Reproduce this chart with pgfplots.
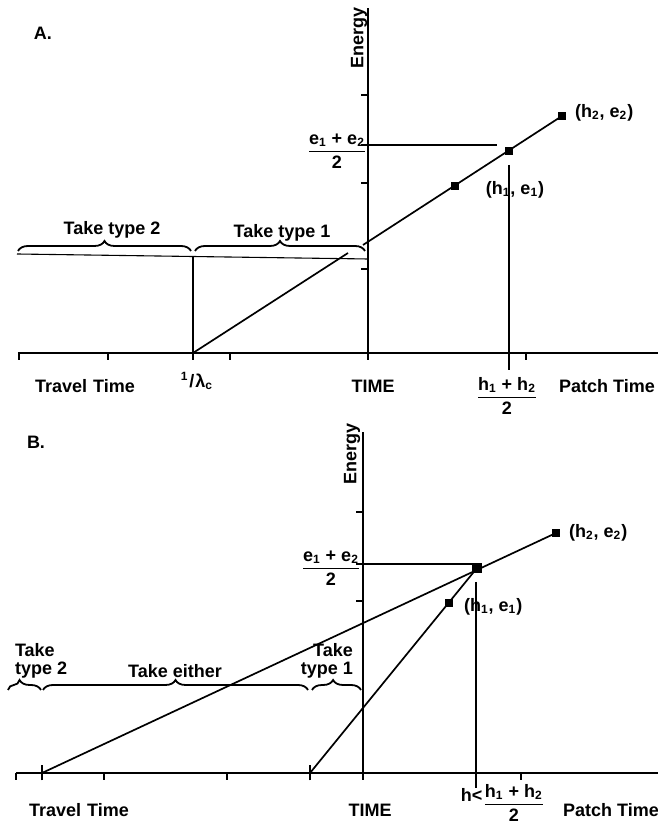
\documentclass[border=0pt]{standalone}
\usepackage{fontspec}
\setmainfont{Liberation Sans}
\setsansfont{Liberation Sans}
\usepackage{pgfplots}
\pgfplotsset{compat=1.18}
\usetikzlibrary{decorations.pathreplacing}

\newcommand{\lbl}{\fontsize{9}{9}\selectfont\bfseries}
\newcommand{\frc}[2]{$\displaystyle\frac{\mbox{#1}}{\mbox{#2}}$}
\newcommand{\sub}[1]{\textsubscript{#1}}

\pgfplotsset{
  panel/.style={
    x=0.5pt, y=0.5pt,
    axis lines=middle,
    axis line style={-, line width=1.1pt},
    enlargelimits=false,
    clip=false,
    tick align=outside,
    major tick length=3.5pt,
    tick style={black, line width=0.8pt},
    hide obscured x ticks=false,
    hide obscured y ticks=false,
    xticklabel={\hbox{}}, yticklabel={\hbox{}},
    anchor=south west,
  },
  dataline/.style={black, line width=0.85pt, mark=none},
  guide/.style={black, line width=0.55pt, mark=none},
  dot/.style={black, only marks, mark=square*, mark size=1.8pt},
}
\tikzset{
  brc/.style={decorate, line width=0.9pt, decoration={brace, amplitude=5pt, aspect=#1}},
  brc/.default=0.5,
}

\begin{document}
\begin{tikzpicture}[font=\lbl]
\useasboundingbox (0,0) rectangle (329pt,412.5pt);

% ---------------- Panel A ----------------
\begin{axis}[panel, at={(9pt,236pt)},
  xmin=-350, xmax=290, ymin=0, ymax=345,
  xtick={-349,-260,-175,-138,0,158},
  ytick={84,170,208,258}]
  % gain curve through the origin shifted by the travel time 1/lambda_c
  \addplot[dataline] coordinates {(-175,0) (-20,100)};
  % prey line with the two handling points
  \addplot[dataline] coordinates {(-5,108) (194,237)};
  \addplot[dot] coordinates {(87,167) (141,202) (194,237)};
  % reference levels
  \addplot[guide] coordinates {(-351,99) (0,94)};
  \addplot[guide] coordinates {(-175,0) (-175,97)};
  \addplot[guide] coordinates {(0,208) (129,208)};
  \addplot[guide] coordinates {(141,188) (141,-17)};

  \draw[brc] (axis cs:-350,102) -- (axis cs:-177,102);
  \draw[brc] (axis cs:-173,102) -- (axis cs:-3,102);
  \node at (axis cs:-256,123) {Take type 2};
  \node at (axis cs:-86,120) {Take type 1};

  \node at (axis cs:-325,320) {A.};
  \node[rotate=90] at (axis cs:-9,315) {Energy};
  \node at (axis cs:-31,202) {\frc{e\sub{1} + e\sub{2}}{2}};
  \node[anchor=west] at (axis cs:200,240) {(h\sub{2}, e\sub{2})};
  \node at (axis cs:147,163) {(h\sub{1}, e\sub{1})};

  \node at (axis cs:-171,-28) {\textsuperscript{1}\kern0.05em/\kern0.05em λ\sub{c}};
  \node at (axis cs:-283,-33) {Travel\,\,Time};
  \node at (axis cs:5,-33) {TIME};
  \node at (axis cs:139,-43) {\frc{h\sub{1} + h\sub{2}}{2}};
  \node at (axis cs:239,-33) {Patch Time};
\end{axis}

% ---------------- Panel B ----------------
\begin{axis}[panel, at={(8pt,26pt)},
  xmin=-347, xmax=295, ymin=0, ymax=341,
  xtick={-347,-259,-136,0,158},
  extra x ticks={-321,-53},
  extra x tick style={tick align=center, major tick length=7.5pt},
  ytick={172,209,261}]
  % two gain lines
  \addplot[dataline] coordinates {(-321,0) (193,240)};
  \addplot[dataline] coordinates {(-53,0) (114,205)};
  \addplot[dot] coordinates {(193,240) (86,170)};
  \addplot[dot, mark size=2.2pt] coordinates {(114,205)};
  % reference levels
  \addplot[guide] coordinates {(0,209) (114,209)};
  \addplot[guide] coordinates {(113,191) (113,-15)};

  \draw[brc=0.35] (axis cs:-355,83) -- (axis cs:-322,83);
  \draw[brc] (axis cs:-320,83) -- (axis cs:-55,83);
  \draw[brc=0.43] (axis cs:-51,83) -- (axis cs:-2,83);
  \node[anchor=west, align=left] at (axis cs:-355,112) {Take\\type 2};
  \node at (axis cs:-188,102) {Take either};
  \node[anchor=east, align=right] at (axis cs:-3,112) {Take\\type 1};

  \node at (axis cs:-327,331) {B.};
  \node[rotate=90] at (axis cs:-11,319) {Energy};
  \node at (axis cs:-32,205) {\frc{e\sub{1} + e\sub{2}}{2}};
  \node[anchor=west] at (axis cs:199,240) {(h\sub{2}, e\sub{2})};
  \node[anchor=west] at (axis cs:94,166) {(h\sub{1}, e\sub{1})};

  \node at (axis cs:-284,-37) {Travel\,\,Time};
  \node at (axis cs:7,-37) {TIME};
  \node at (axis cs:140,-30) {\raisebox{4pt}{h<}\frc{h\sub{1} + h\sub{2}}{2}};
  \node at (axis cs:248,-37) {Patch Time};
\end{axis}
\end{tikzpicture}
\end{document}
